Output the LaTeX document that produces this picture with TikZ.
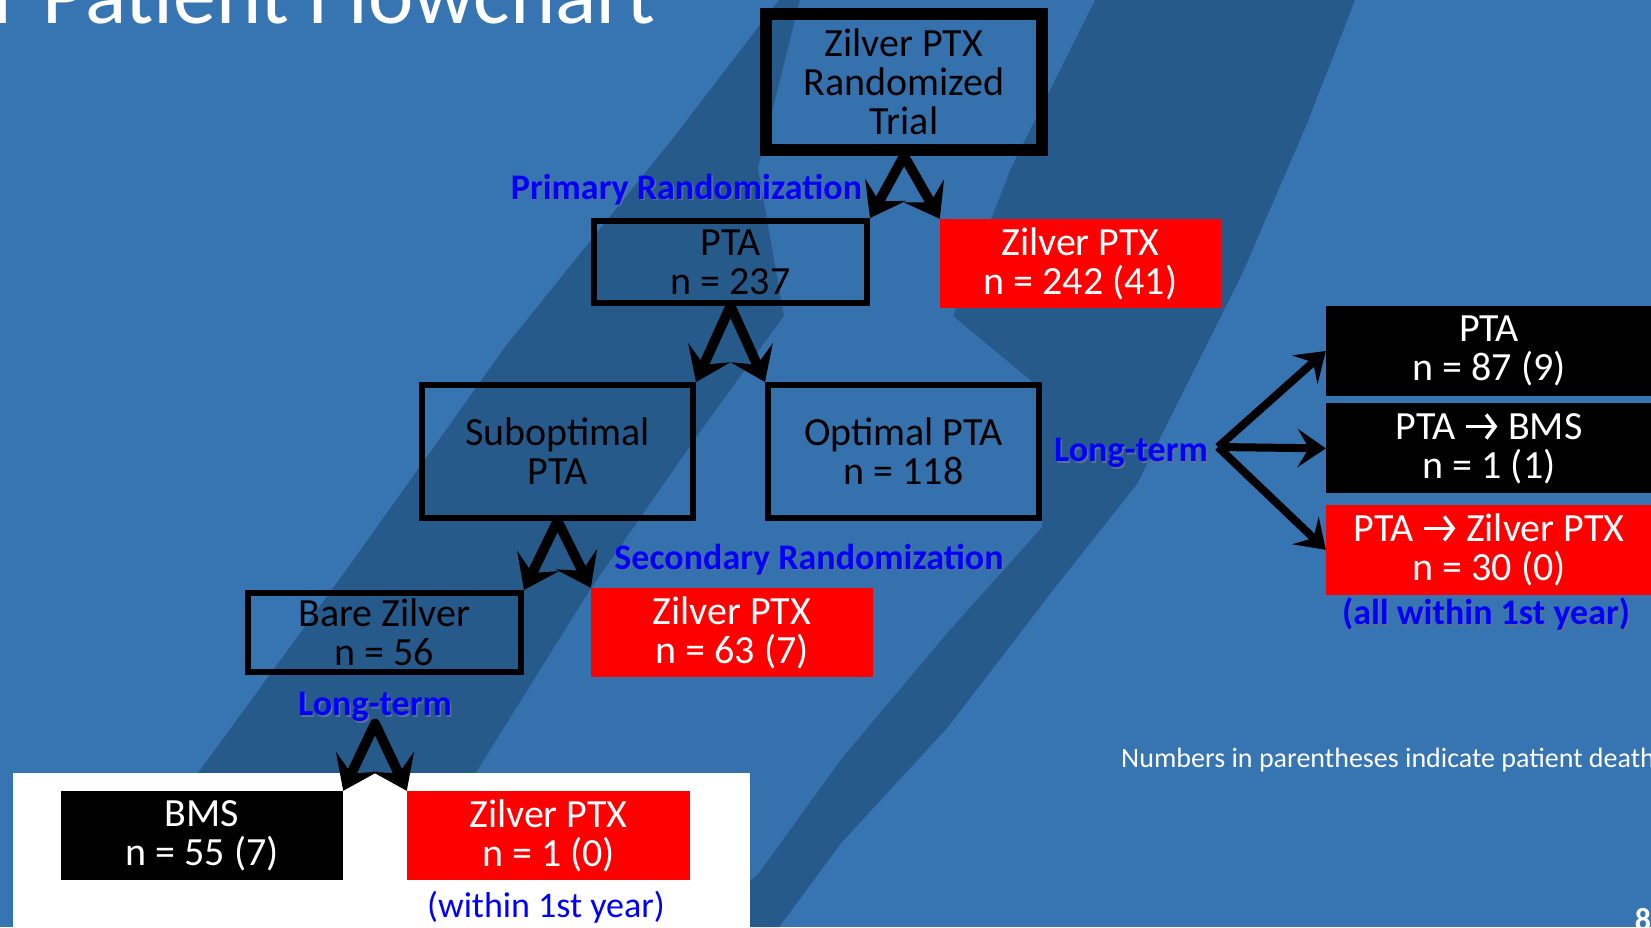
\documentclass[tikz,border=0pt]{standalone}
\usepackage{fontspec}
\setmainfont{Carlito}
\usetikzlibrary{arrows.meta,positioning}

\definecolor{slideblue}{HTML}{3774B2}
\definecolor{brushblue}{HTML}{255A8B}
\definecolor{ptxred}{HTML}{FF0000}
\definecolor{lblblue}{HTML}{0000FF}
\definecolor{lblshadow}{HTML}{5B7190}

\newcommand{\boxfont}{\fontsize{40}{39}\selectfont}
\newcommand{\lblfont}{\fontsize{36}{40}\selectfont\bfseries}
\newcommand{\shadowed}[1]{\makebox[0pt][l]{\kern1.5pt\raisebox{-1.5pt}{\textcolor{lblshadow}{#1}}}#1}
% arrow sign inside the box texts
\newcommand{\thenarrow}{\tikz[baseline=0pt, x=1pt, y=1pt]
  \draw[white, line width=3.5pt, -{Straight Barb[length=9pt,width=24pt]}] (0,13) -- (31,13);}

\tikzset{
  outbox/.style={draw=black, line width=6pt, align=center, font=\boxfont, inner sep=0pt},
  redbox/.style={fill=ptxred, text=white, align=center, font=\boxfont, inner sep=0pt, minimum height=89pt},
  blkbox/.style={fill=black, text=white, align=center, font=\boxfont, inner sep=0pt, minimum height=89pt},
  lbl/.style={text=lblblue, font=\lblfont, inner sep=0pt},
  fork/.style={line width=10pt, line join=round,
    arrows={Stealth[length=32pt,width=46pt,inset=13pt]-Stealth[length=32pt,width=46pt,inset=13pt]}},
  branch/.style={line width=8pt, -{Stealth[length=28pt,width=38pt,inset=11pt]}},
}

\begin{document}
\begin{tikzpicture}[x=1pt, y=-1pt]
    % Slide canvas
    \useasboundingbox (0,0) rectangle (1651,927);
    \clip (0,0) rectangle (1651,927);
    \fill[slideblue] (0,0) rectangle (1651,927);

    % Brush stroke behind the chart
    \fill[brushblue] (190,784) -- (347,569) -- (505,347) -- (674,137) -- (779,0)
        -- (1355,0) -- (1306,126) -- (1242,274) -- (1179,400) -- (1137,484)
        -- (1053,590) -- (948,727) -- (842,842) -- (779,927) -- (190,927) -- cycle;
    \fill[slideblue!88!brushblue] (469,784) -- (590,590) -- (700,432) -- (784,316)
        -- (758,168) -- (800,0) -- (1095,0) -- (1011,168) -- (953,316)
        -- (1042,390) -- (1042,527) -- (948,632) -- (842,758) -- (758,874)
        -- (695,927) -- (469,927) -- cycle;

    % Title, cut by the top edge
    \node[anchor=base west, inner sep=0pt, text=white, font=\fontsize{86}{96}\selectfont] (title) at (-19,23) {T Patient Flowchart};

    % White panel under the bottom row
    \fill[white] (13,773) rectangle (750,935);

    % Boxes of the flowchart
    \node[outbox, line width=12pt, minimum width=276pt, minimum height=136pt] (trial) at (904,82) {Zilver PTX\\Randomized\\Trial};
    \node[redbox, minimum width=281pt] (ptx1) at (1080.5,263.5) {Zilver PTX\\n = 242 (41)};
    \node[outbox, minimum width=273pt, minimum height=82pt] (pta) at (730.5,262) {PTA\\n = 237};
    \node[outbox, minimum width=271pt, minimum height=133pt] (subopt) at (557.5,451.5) {Suboptimal\\PTA};
    \node[outbox, minimum width=271pt, minimum height=133pt] (optimal) at (903.5,451.5) {Optimal PTA\\n = 118};
    \node[outbox, minimum width=273pt, minimum height=79pt] (bare) at (384.5,632.5) {Bare Zilver\\n = 56};
    \node[redbox, minimum width=282pt] (ptx2) at (732,632.5) {Zilver PTX\\n = 63 (7)};
    \node[blkbox, minimum width=282pt] (bms) at (202,835.5) {BMS\\n = 55 (7)};
    \node[redbox, minimum width=283pt] (ptx3) at (548.5,835.5) {Zilver PTX\\n = 1 (0)};

    % Long-term outcome of optimal PTA
    \node[blkbox, minimum width=326pt, minimum height=90pt] (ptaonly) at (1489,351) {PTA\\n = 87 (9)};
    \node[blkbox, minimum width=326pt, minimum height=90pt, below=7pt of ptaonly] (ptabms) {PTA \thenarrow{} BMS\\n = 1 (1)};
    \node[redbox, minimum width=326pt, minimum height=90pt, below=11pt of ptabms] (ptaptx) {PTA \thenarrow{} Zilver PTX\\n = 30 (0)};

    % Blue labels
    \node[lbl] (primary) at (686.5,190) {\shadowed{Primary Randomization}};
    \node[lbl] (secondary) at (809,560) {\shadowed{Secondary Randomization}};
    \node[lbl] (longlow) at (375,708) {\shadowed{Long-term}};
    \node[lbl] (longright) at (1131,454) {\shadowed{Long-term}};
    \node[lbl] (allwithin) at (1486,615) {\shadowed{(all within 1st year)}};
    \node[text=lblblue, font=\fontsize{36}{40}\selectfont, inner sep=0pt] (within) at (546,907) {(within 1st year)};

    % Footnote and page number
    \node[anchor=base west, inner sep=0pt, text=white, font=\fontsize{28}{32}\selectfont] (note) at (1121,767) {Numbers in parentheses indicate patient death};
    \node[anchor=base, inner sep=0pt, text=white, font=\fontsize{32}{36}\selectfont\bfseries] (pagenum) at (1643,930) {8};

    % Split arrows
    \draw[fork] (pta.north east) -- (trial.south) -- (ptx1.north west);
    \draw[fork] (subopt.north east) -- (pta.south) -- (optimal.north west);
    \draw[fork] (bare.north east) -- (subopt.south) -- (ptx2.north west);
    \draw[fork] (bms.north east) -- (longlow.south) -- (ptx3.north west);

    \coordinate (split) at (1218,447);
    \draw[branch] (split) -- (ptaonly.west);
    \draw[branch] (split) -- (ptabms.west);
    \draw[branch] (split) -- (ptaptx.west);
\end{tikzpicture}
\end{document}
